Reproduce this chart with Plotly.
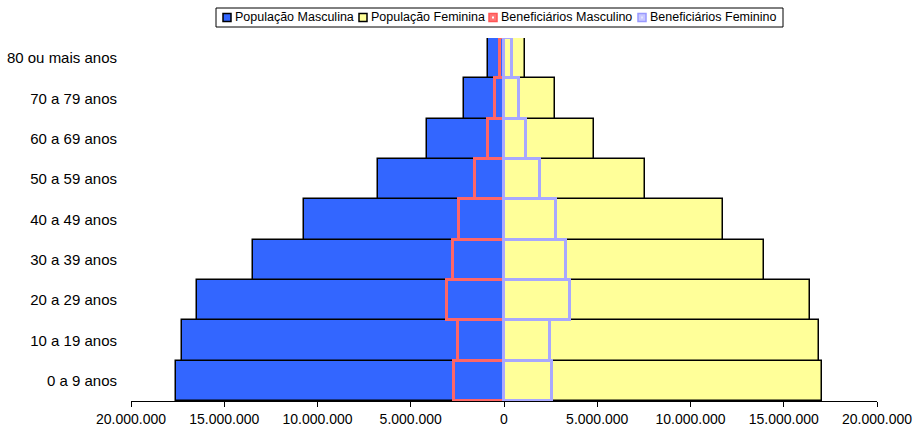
import plotly.graph_objects as go

categories = ["0 a 9 anos", "10 a 19 anos", "20 a 29 anos", "30 a 39 anos", "40 a 49 anos",
              "50 a 59 anos", "60 a 69 anos", "70 a 79 anos", "80 ou mais anos"]
pop_masc = [17600000, 17250000, 16450000, 13450000, 10700000, 6750000, 4150000, 2150000, 850000]
pop_fem = [17050000, 16900000, 16400000, 13950000, 11730000, 7560000, 4830000, 2750000, 1140000]
ben_masc = [2700000, 2450000, 3050000, 2750000, 2400000, 1550000, 850000, 500000, 230000]
ben_fem = [2600000, 2450000, 3550000, 3300000, 2800000, 1950000, 1200000, 780000, 450000]
series_names = ["População Masculina", "População Feminina",
                "Beneficiários Masculino", "Beneficiários Feminino"]
tick_vals = [-20000000, -15000000, -10000000, -5000000, 0, 5000000, 10000000, 15000000, 20000000]
tick_text = ["20.000.000", "15.000.000", "10.000.000", "5.000.000", "0",
             "5.000.000", "10.000.000", "15.000.000", "20.000.000"]

# layout geometry (pixels)
W, H = 914, 427
ML, MR, MT, MB = 131, 37, 38, 26
PW, PH = W - ML - MR, H - MT - MB


def px_x(px):
    return (px - ML) / PW


def px_y(py):
    return (H - MB - py) / PH


fig = go.Figure()
fig.add_trace(go.Bar(y=categories, x=[-v for v in pop_masc], orientation="h",
                     name=series_names[0],
                     marker=dict(color="#3366FF", line=dict(color="black", width=1.5))))
fig.add_trace(go.Bar(y=categories, x=pop_fem, orientation="h",
                     name=series_names[1],
                     marker=dict(color="#FFFF99", line=dict(color="black", width=1.5))))
fig.add_trace(go.Bar(y=categories, x=[-v for v in ben_masc], orientation="h",
                     name=series_names[2],
                     marker=dict(color="rgba(0,0,0,0)", line=dict(color="#FF6666", width=3))))
fig.add_trace(go.Bar(y=categories, x=ben_fem, orientation="h",
                     name=series_names[3],
                     marker=dict(color="rgba(0,0,0,0)", line=dict(color="#A8A8FF", width=3))))

# hand-drawn legend to match the compact original legend box
shapes = [dict(type="rect", xref="paper", yref="paper",
               x0=px_x(216), x1=px_x(783), y0=px_y(27), y1=px_y(8),
               line=dict(color="black", width=1), fillcolor="white", layer="above")]
legend_items = [
    (223, "#3366FF", "black", None),
    (359, "#FFFF99", "black", None),
    (489, "#FF7777", "#FF5555", "white"),
    (638, "#C8C8FF", "#9999FF", "#E4E4FF"),
]
annotations = []
for (sx, fill, border, inner), name in zip(legend_items, series_names):
    shapes.append(dict(type="rect", xref="paper", yref="paper",
                       x0=px_x(sx), x1=px_x(sx + 8), y0=px_y(21.5), y1=px_y(13.5),
                       line=dict(color=border, width=1.5), fillcolor=fill, layer="above"))
    if inner:
        shapes.append(dict(type="rect", xref="paper", yref="paper",
                           x0=px_x(sx + 3), x1=px_x(sx + 5), y0=px_y(18.5), y1=px_y(16.5),
                           line=dict(width=0), fillcolor=inner, layer="above"))
    annotations.append(dict(xref="paper", yref="paper", x=px_x(sx + 9.5), y=px_y(17.5),
                            xanchor="left", yanchor="middle", text=name, showarrow=False,
                            font=dict(size=12.5, color="black")))

fig.update_layout(
    width=W, height=H,
    barmode="overlay", bargap=0,
    plot_bgcolor="white", paper_bgcolor="white",
    font=dict(family="Liberation Sans, Arial, sans-serif", size=15, color="black"),
    margin=dict(l=ML, r=MR, t=MT, b=MB),
    showlegend=False,
    shapes=shapes, annotations=annotations,
    xaxis=dict(range=[-20000000, 20000000], tickvals=tick_vals, ticktext=tick_text,
               tickfont=dict(size=14),
               showgrid=False, zeroline=True, zerolinecolor="#333333", zerolinewidth=1,
               showline=True, linecolor="black", linewidth=1, automargin=False,
               ticks="outside", ticklen=5, tickcolor="black"),
    yaxis=dict(showgrid=False, showline=False, ticks="outside", ticklen=10,
               tickcolor="rgba(0,0,0,0)", automargin=False,
               range=[-0.5, 8.5]),
)
fig.write_html("out.html", config={"displayModeBar": False},
               post_script="document.body.style.margin='0';document.body.style.overflow='hidden';")
